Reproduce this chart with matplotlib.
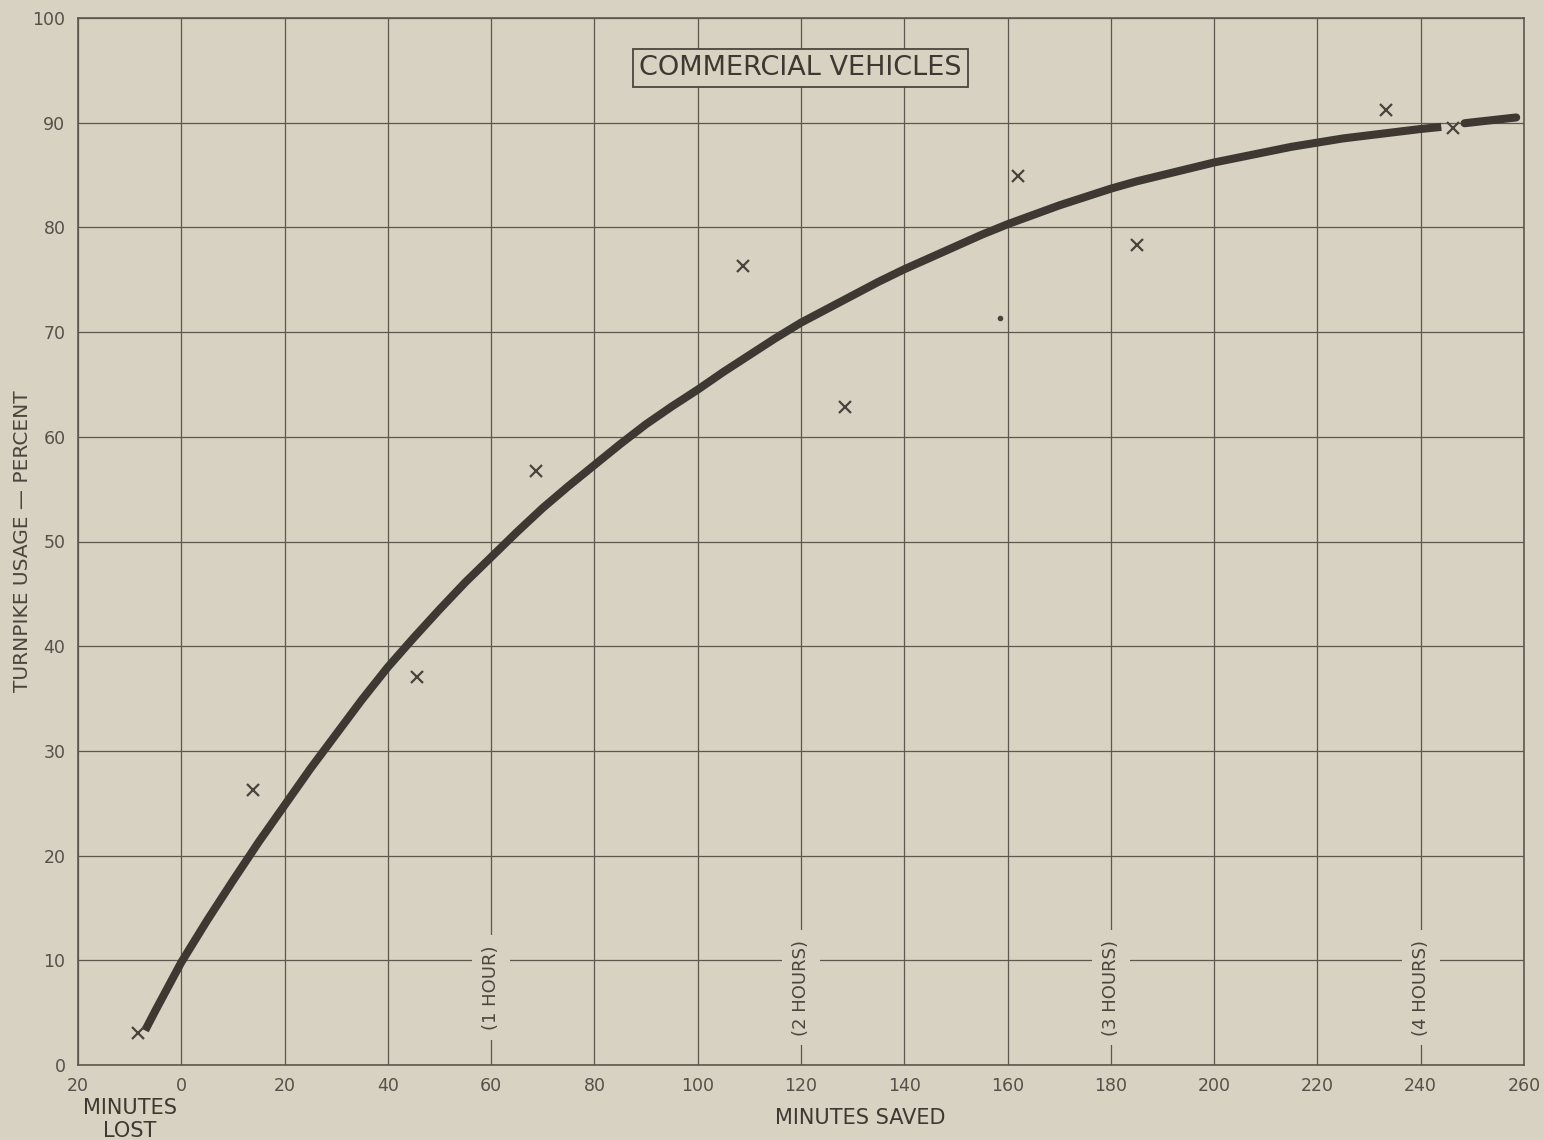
import numpy as np
import matplotlib
matplotlib.use("Agg")
import matplotlib.pyplot as plt

# observed points (minutes saved, percent usage)
obs_x = [-8.3, 13.9, 45.6, 68.6, 108.7, 128.6, 162.0, 185.1, 233.2, 246.3]
obs_y = [3.1, 26.3, 37.1, 56.7, 76.3, 62.8, 84.9, 78.3, 91.2, 89.5]

# stray dot on the sheet
dot_x = [158.5]
dot_y = [71.3]

# fitted curve (broken around the x at 246)
curve_x = [-7, -5, 0, 5, 10, 15, 20, 25, 30, 35, 40, 45, 50, 55, 60, 65, 70,
           75, 80, 85, 90, 95, 100, 105, 110, 115, 120, 125, 130, 135, 140,
           145, 150, 155, 160, 165, 170, 175, 180, 185, 190, 195, 200, 205,
           210, 215, 220, 225, 230, 235, 240, 244]
curve_y = [3.3, 5.2, 9.8, 13.8, 17.6, 21.3, 24.8, 28.3, 31.6, 34.9, 38.0,
           40.8, 43.5, 46.1, 48.5, 50.9, 53.2, 55.3, 57.3, 59.3, 61.2, 62.9,
           64.5, 66.2, 67.8, 69.4, 70.9, 72.2, 73.5, 74.8, 76.0, 77.1, 78.2,
           79.3, 80.3, 81.2, 82.1, 82.9, 83.7, 84.4, 85.0, 85.6, 86.2, 86.7,
           87.2, 87.7, 88.1, 88.5, 88.8, 89.1, 89.4, 89.6]
tail_x = [248.5, 253, 258.5]
tail_y = [89.95, 90.2, 90.5]

xticks = list(range(-20, 261, 20))
xtick_labels = ["20"] + [str(v) for v in range(0, 261, 20)]
yticks = list(range(0, 101, 10))
hour_x = [60, 120, 180, 240]
hour_labels = ["(1 HOUR)", "(2 HOURS)", "(3 HOURS)", "(4 HOURS)"]

bg = "#d7d2c1"
ink = "#3d3932"
grid_c = "#5c584e"
txt_c = "#4a463e"

fig = plt.figure(figsize=(15.44, 11.4), dpi=100, facecolor=bg)
ax = fig.add_axes([0.0505, 0.0658, 0.9365, 0.9184], facecolor=bg)

ax.set_xlim(-20, 260)
ax.set_ylim(0, 100)
ax.set_xticks(xticks)
ax.set_xticklabels(xtick_labels)
ax.set_yticks(yticks)
ax.tick_params(axis="x", length=0, labelsize=12.5, colors="#55514a", pad=9)
ax.tick_params(axis="y", length=0, labelsize=12.5, colors="#55514a", pad=9)
ax.grid(True, color=grid_c, linewidth=0.9, zorder=1)
for s in ax.spines.values():
    s.set_color(grid_c)
    s.set_linewidth(1.2)

# hour labels that interrupt the grid lines
for hx, hl in zip(hour_x, hour_labels):
    ax.text(hx, 7.4, hl, rotation=90, ha="center", va="center",
            fontsize=13, color=txt_c, zorder=3,
            bbox=dict(boxstyle="square,pad=0.55", fc=bg, ec="none"))

ax.plot(curve_x, curve_y, color=ink, linewidth=5.8, solid_capstyle="butt",
        solid_joinstyle="round", zorder=4)
ax.plot(tail_x, tail_y, color=ink, linewidth=5.8, solid_capstyle="round", zorder=4)
ax.plot(obs_x, obs_y, linestyle="none", marker="x", markersize=8,
        markeredgewidth=1.6, color="#48443d", zorder=5)
ax.plot(dot_x, dot_y, linestyle="none", marker="o", markersize=3,
        color="#48443d", zorder=5)

ax.text(119.9, 95.2, "COMMERCIAL VEHICLES", ha="center", va="center",
        fontsize=19.5, color="#3d3932", zorder=6,
        bbox=dict(boxstyle="square,pad=0.22", fc=bg, ec="#4a463e", lw=1.3))

fig.text(860 / 1544, 1 - 1118 / 1140, "MINUTES SAVED", ha="center", va="center",
         fontsize=15, color="#3d3932")
fig.text(23 / 1544, 1 - 541 / 1140, "TURNPIKE USAGE \u2014 PERCENT", rotation=90,
         ha="center", va="center", fontsize=14.5, color=txt_c)
fig.text(130 / 1544, 1 - 1108 / 1140, "MINUTES", ha="center", va="center",
         fontsize=15, color="#3d3932")
fig.text(130 / 1544, 1 - 1131 / 1140, "LOST", ha="center", va="center",
         fontsize=15, color="#3d3932")

fig.savefig("out.png", dpi=100, facecolor=bg)
